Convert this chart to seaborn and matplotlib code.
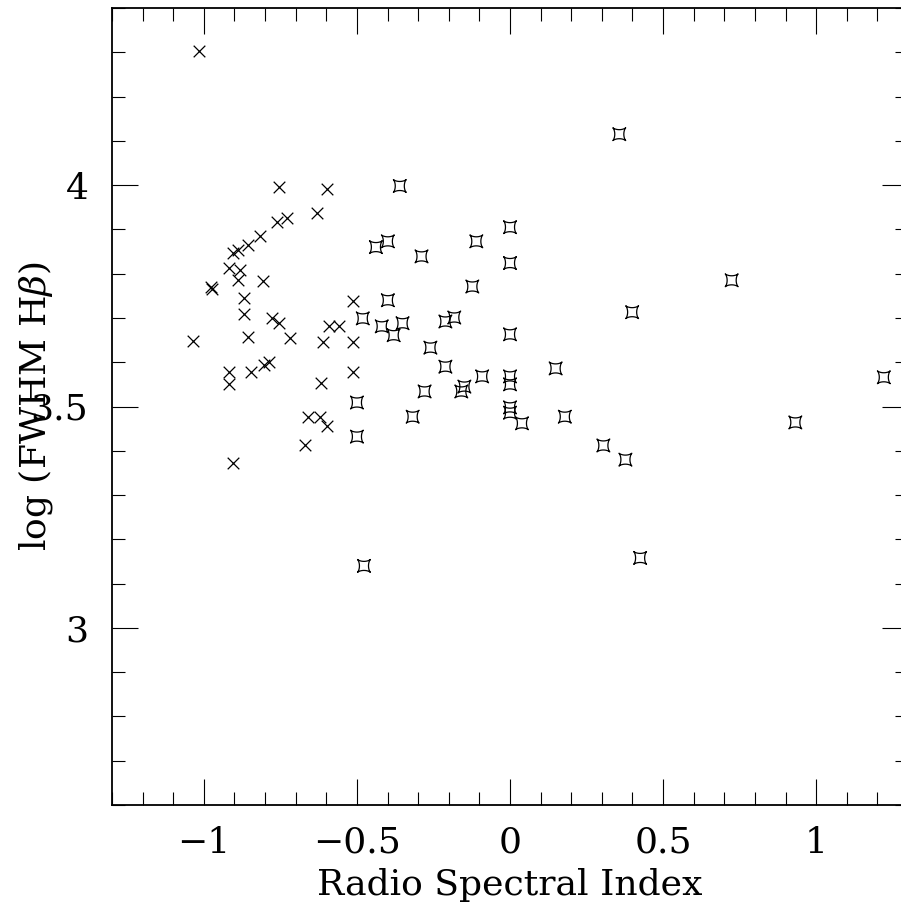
import numpy as np
import pandas as pd
import matplotlib
matplotlib.use("Agg")
import matplotlib.pyplot as plt
from matplotlib.path import Path
from matplotlib.ticker import MultipleLocator, FixedLocator, FixedFormatter
import seaborn as sns

# ---- data: steep-spectrum sources (crosses) ----
cross_x = [-1.016, -0.756, -0.597, -0.630, -0.760, -0.727, -0.818, -0.857, -0.890, -0.906,
           -0.919, -0.883, -0.890, -0.808, -0.977, -0.974, -0.870, -0.870, -0.776, -0.756,
           -0.513, -0.857, -0.718, -1.036, -0.610, -0.513, -0.591, -0.558, -0.919, -0.847,
           -0.805, -0.786, -0.919, -0.513, -0.617, -0.659, -0.620, -0.597, -0.669, -0.906]
cross_y = [4.303, 3.995, 3.991, 3.937, 3.916, 3.925, 3.885, 3.864, 3.853, 3.846,
           3.812, 3.808, 3.785, 3.783, 3.769, 3.765, 3.744, 3.708, 3.701, 3.688,
           3.738, 3.658, 3.654, 3.647, 3.645, 3.645, 3.681, 3.681, 3.579, 3.579,
           3.593, 3.600, 3.550, 3.579, 3.552, 3.477, 3.477, 3.457, 3.414, 3.373]

# ---- data: flat-spectrum sources (stars) ----
star_x = [0.357, -0.360, 0.000, -0.438, -0.399, -0.110, -0.289, 0.000, -0.123, -0.399,
          -0.481, -0.419, -0.351, -0.380, -0.211, -0.182, 0.000, -0.260, -0.211, 0.149,
          -0.091, 0.000, 0.000, -0.279, -0.159, -0.149, -0.500, 0.000, 0.000, -0.318,
          0.039, 0.179, -0.500, 0.305, 0.377, 0.399, 0.724, 1.221, 0.932, -0.477, 0.425]
star_y = [4.115, 3.998, 3.905, 3.860, 3.873, 3.873, 3.839, 3.824, 3.771, 3.740,
          3.699, 3.681, 3.688, 3.661, 3.692, 3.701, 3.663, 3.633, 3.590, 3.586,
          3.568, 3.568, 3.550, 3.534, 3.534, 3.545, 3.509, 3.498, 3.486, 3.477,
          3.462, 3.477, 3.432, 3.412, 3.380, 3.713, 3.785, 3.566, 3.464, 3.140, 3.158]

x_ticks = [-1, -0.5, 0, 0.5, 1]
x_ticklabels = ["\u22121", "\u22120.5", "0", "0.5", "1"]
y_ticks = [3, 3.5, 4]
y_ticklabels = ["3", "3.5", "4"]

crosses = pd.DataFrame({"alpha": cross_x, "logfwhm": cross_y})
stars = pd.DataFrame({"alpha": star_x, "logfwhm": star_y})

sns.set_style("white")
plt.rcParams["font.family"] = ["DejaVu Serif"]
plt.rcParams["mathtext.fontset"] = "dejavuserif"
plt.rcParams["text.color"] = "black"
plt.rcParams["axes.labelcolor"] = "black"

# concave four-pointed star marker (points on the diagonals)
t = np.linspace(0, 2 * np.pi, 121)
ax_ = np.sign(np.cos(t)) * np.abs(np.cos(t)) ** 3
ay_ = np.sign(np.sin(t)) * np.abs(np.sin(t)) ** 3
c45 = np.cos(np.pi / 4)
vx = c45 * (ax_ - ay_)
vy = c45 * (ax_ + ay_)
star_marker = Path(np.column_stack([vx, vy]), closed=True)

fig = plt.figure(figsize=(9.01, 9.07), dpi=100)
ax = fig.add_axes([112 / 901, 102 / 907, 796 / 901, 797 / 907])

sns.scatterplot(data=crosses, x="alpha", y="logfwhm", marker="x", s=70,
                color="black", linewidth=0.9, ax=ax, legend=False)
sns.scatterplot(data=stars, x="alpha", y="logfwhm", marker=star_marker, s=85,
                color="black", facecolor="none", edgecolor="black",
                linewidth=0.9, ax=ax, legend=False)
for coll in ax.collections[1:]:
    coll.set_facecolor("none")

ax.set_xlim(-1.3, 1.3)
ax.set_ylim(2.6, 4.4)

ax.xaxis.set_major_locator(FixedLocator(x_ticks))
ax.xaxis.set_major_formatter(FixedFormatter(x_ticklabels))
ax.xaxis.set_minor_locator(MultipleLocator(0.1))
ax.yaxis.set_major_locator(FixedLocator(y_ticks))
ax.yaxis.set_major_formatter(FixedFormatter(y_ticklabels))
ax.yaxis.set_minor_locator(MultipleLocator(0.1))

ax.tick_params(which="both", direction="in", top=True, right=True,
               bottom=True, left=True, colors="black", labelcolor="black")
ax.tick_params(which="major", length=18.5, width=0.8)
ax.tick_params(which="minor", length=9.3, width=0.8)
ax.tick_params(axis="x", which="major", labelsize=26, pad=15)
ax.tick_params(axis="y", which="major", labelsize=26, pad=17)

for sp in ax.spines.values():
    sp.set_visible(True)
    sp.set_color("black")
    sp.set_linewidth(1.3)

ax.set_xlabel("Radio Spectral Index", fontsize=26, color="black")
ax.xaxis.label.set_va("center")
ax.xaxis.set_label_coords(0.5, -0.101)
ax.set_ylabel(r"log (FWHM H$\beta$)", fontsize=26, color="black")
ax.yaxis.label.set_va("center")
ax.yaxis.set_label_coords(-0.0955, 0.5)

fig.savefig("out.png", dpi=100, facecolor="white")
